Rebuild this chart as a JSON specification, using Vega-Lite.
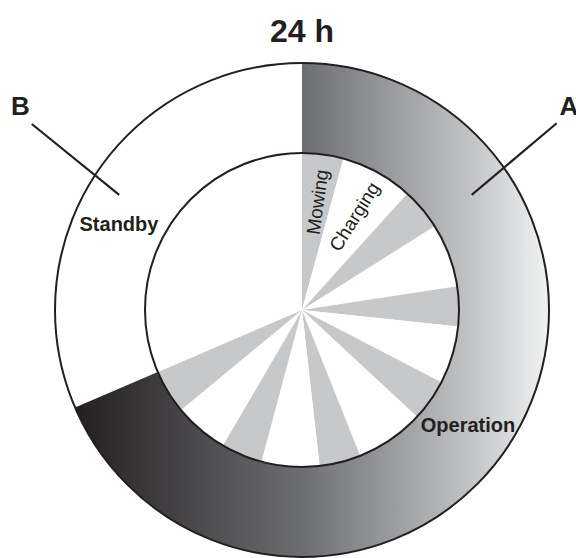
{
  "$schema": "https://vega.github.io/schema/vega-lite/v6.json",
  "autosize": {"type": "none"},
  "padding": {"left": 28, "top": 62, "right": 0, "bottom": 0},
  "width": 548,
  "height": 496,
  "background": "white",
  "config": {"view": {"stroke": null}, "text": {"font": "Liberation Sans"}},
  "datasets": {
    "ring": [
      {"part": "Operation", "hours": 16.45},
      {"part": "Standby", "hours": 7.55}
    ],
    "inner": [
      {"activity": "Mowing", "hours": 1.02},
      {"activity": "Charging", "hours": 1.79},
      {"activity": "Mowing", "hours": 1.04},
      {"activity": "Charging", "hours": 1.57},
      {"activity": "Mowing", "hours": 0.98},
      {"activity": "Charging", "hours": 1.43},
      {"activity": "Mowing", "hours": 1.03},
      {"activity": "Charging", "hours": 1.69},
      {"activity": "Mowing", "hours": 1.02},
      {"activity": "Charging", "hours": 1.43},
      {"activity": "Mowing", "hours": 1.02},
      {"activity": "Charging", "hours": 1.34},
      {"activity": "Mowing", "hours": 1.09},
      {"activity": "Standby", "hours": 7.55}
    ],
    "lines": [
      {"label": "A", "x1": 1.031, "y1": 0.756, "x2": 0.687, "y2": 0.466},
      {"label": "B", "x1": -1.094, "y1": 0.753, "x2": -0.740, "y2": 0.466}
    ],
    "ringLabels": [
      {"label": "Standby", "hour": 19.657, "r": 0.8166},
      {"label": "Operation", "hour": 8.325, "r": 0.819}
    ],
    "title": [{"label": "24 h", "hour": 0, "r": 1.126}],
    "letters": [
      {"label": "A", "hour": 3.513, "r": 1.359},
      {"label": "B", "hour": 20.39, "r": 1.4065}
    ],
    "mowing": [{"label": "Mowing", "hour": 0.562, "r": 0.442}],
    "charging": [{"label": "Charging", "hour": 1.973, "r": 0.434}]
  },
  "layer": [
    {
      "data": {"name": "ring"},
      "mark": {
        "type": "arc",
        "outerRadius": 247,
        "innerRadius": 157,
        "strokeWidth": 0,
        "fill": {
          "gradient": "linear",
          "x1": 0, "y1": 0, "x2": 1, "y2": 0,
          "stops": [
            {"offset": 0, "color": "#231f20"},
            {"offset": 0.48, "color": "#6d6e71"},
            {"offset": 0.83, "color": "#c1c2c4"},
            {"offset": 1, "color": "#f1f2f2"}
          ]
        }
      },
      "encoding": {
        "theta": {"field": "hours", "type": "quantitative", "stack": true, "scale": {"domain": [0, 24]}},
        "fillOpacity": {"condition": {"test": "datum.part === 'Standby'", "value": 0}, "value": 1}
      }
    },
    {
      "data": {"name": "inner"},
      "mark": {"type": "arc", "outerRadius": 157, "innerRadius": 0, "strokeWidth": 0},
      "encoding": {
        "theta": {"field": "hours", "type": "quantitative", "stack": true, "scale": {"domain": [0, 24]}},
        "fill": {"condition": {"test": "datum.activity === 'Mowing'", "value": "#c7c8ca"}, "value": "#ffffff"}
      }
    },
    {
      "data": {"values": [{}]},
      "mark": {"type": "arc", "theta": 0, "theta2": 6.2832, "outerRadius": 247, "innerRadius": 0, "fill": "transparent", "stroke": "#231f20", "strokeWidth": 2},
      "encoding": {}
    },
    {
      "data": {"values": [{}]},
      "mark": {"type": "arc", "theta": 0, "theta2": 6.2832, "outerRadius": 157, "innerRadius": 0, "fill": "transparent", "stroke": "#231f20", "strokeWidth": 2},
      "encoding": {}
    },
    {
      "data": {"name": "lines"},
      "mark": {"type": "rule", "stroke": "#231f20", "strokeWidth": 2.2},
      "encoding": {
        "x": {"field": "x1", "type": "quantitative", "scale": {"domain": [-1.1093, 1.1093], "nice": false, "zero": false}, "axis": null},
        "y": {"field": "y1", "type": "quantitative", "scale": {"domain": [-1.004, 1.004], "nice": false, "zero": false}, "axis": null},
        "x2": {"field": "x2"},
        "y2": {"field": "y2"}
      }
    },
    {
      "data": {"name": "ringLabels"},
      "mark": {"type": "text", "fontSize": 20, "fontWeight": "bold", "fill": "#231f20", "align": "center", "baseline": "middle"},
      "encoding": {
        "theta": {"field": "hour", "type": "quantitative", "stack": null, "scale": {"domain": [0, 24]}},
        "radius": {"field": "r", "type": "quantitative", "scale": {"type": "linear", "domain": [0, 1], "range": [0, 247], "zero": true}},
        "text": {"field": "label"}
      }
    },
    {
      "data": {"name": "title"},
      "mark": {"type": "text", "fontSize": 32, "fontWeight": "bold", "fill": "#231f20", "align": "center", "baseline": "middle"},
      "encoding": {
        "theta": {"field": "hour", "type": "quantitative", "stack": null, "scale": {"domain": [0, 24]}},
        "radius": {"field": "r", "type": "quantitative", "scale": {"type": "linear", "domain": [0, 1], "range": [0, 247], "zero": true}},
        "text": {"field": "label"}
      }
    },
    {
      "data": {"name": "letters"},
      "mark": {"type": "text", "fontSize": 26, "fontWeight": "bold", "fill": "#231f20", "align": "center", "baseline": "middle"},
      "encoding": {
        "theta": {"field": "hour", "type": "quantitative", "stack": null, "scale": {"domain": [0, 24]}},
        "radius": {"field": "r", "type": "quantitative", "scale": {"type": "linear", "domain": [0, 1], "range": [0, 247], "zero": true}},
        "text": {"field": "label"}
      }
    },
    {
      "data": {"name": "mowing"},
      "mark": {"type": "text", "fontSize": 19, "fill": "#231f20", "align": "center", "baseline": "middle", "angle": 278},
      "encoding": {
        "theta": {"field": "hour", "type": "quantitative", "stack": null, "scale": {"domain": [0, 24]}},
        "radius": {"field": "r", "type": "quantitative", "scale": {"type": "linear", "domain": [0, 1], "range": [0, 247], "zero": true}},
        "text": {"field": "label"}
      }
    },
    {
      "data": {"name": "charging"},
      "mark": {"type": "text", "fontSize": 19, "fill": "#231f20", "align": "center", "baseline": "middle", "angle": 302},
      "encoding": {
        "theta": {"field": "hour", "type": "quantitative", "stack": null, "scale": {"domain": [0, 24]}},
        "radius": {"field": "r", "type": "quantitative", "scale": {"type": "linear", "domain": [0, 1], "range": [0, 247], "zero": true}},
        "text": {"field": "label"}
      }
    }
  ],
  "resolve": {"scale": {"theta": "independent", "radius": "independent"}}
}
